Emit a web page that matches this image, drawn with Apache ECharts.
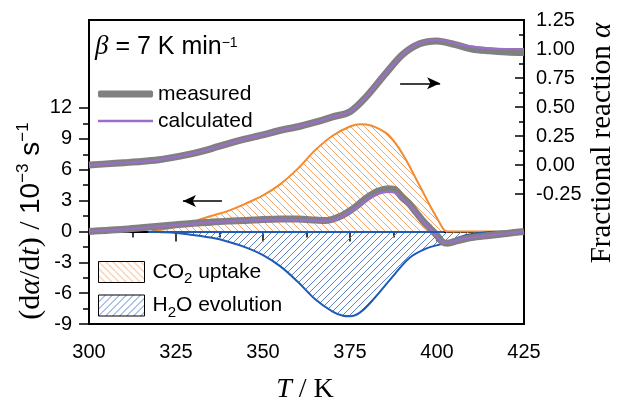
<!DOCTYPE html>
<html>
<head>
<meta charset="utf-8">
<script src="https://cdn.jsdelivr.net/npm/echarts@6/dist/echarts.min.js"></script>
<style>
  html, body { margin: 0; padding: 0; background: #fff; }
  #chart { width: 617px; height: 401px; }
</style>
</head>
<body>
<div id="chart"></div>
<script>
// --- data ---

// fractional reaction alpha (right axis)
const alphaT = [300, 305, 310, 315, 320, 325, 330, 335, 340, 345, 350, 355, 360, 365, 370, 375, 380, 385, 390, 395, 400, 405, 410, 415, 420, 425];
const alphaMeasured = [0.0, 0.01, 0.02, 0.03, 0.045, 0.07, 0.1, 0.14, 0.185, 0.225, 0.26, 0.3, 0.33, 0.37, 0.415, 0.46, 0.6, 0.78, 0.95, 1.045, 1.07, 1.04, 1.0, 0.985, 0.975, 0.97];
const alphaCalc = [0.0, 0.01, 0.02, 0.03, 0.045, 0.07, 0.1, 0.14, 0.185, 0.225, 0.26, 0.3, 0.33, 0.37, 0.415, 0.46, 0.6, 0.78, 0.95, 1.05, 1.08, 1.05, 1.02, 1.005, 1.0, 1.0];

// reaction rate d(alpha)/dt in 1e-3 s^-1 (left axis)
const rateT = [300, 305, 310, 315, 320, 325, 330, 335, 340, 345, 350, 355, 360, 365, 368, 371, 374, 377, 380, 383, 386, 388, 390, 392, 394, 396, 398, 400, 401.5, 403, 406, 410, 415, 420, 425];
const rateMeasured = [0.0, 0.1, 0.2, 0.35, 0.5, 0.65, 0.8, 0.9, 1.0, 1.05, 1.15, 1.2, 1.2, 1.1, 1.05, 1.3, 1.8, 2.5, 3.3, 3.9, 4.15, 4.05, 3.3, 2.7, 1.85, 1.0, 0.3, -0.4, -1.0, -1.15, -0.9, -0.6, -0.4, -0.2, 0.0];
const rateCalc = [0.0, 0.1, 0.2, 0.33, 0.48, 0.62, 0.76, 0.88, 0.98, 1.05, 1.12, 1.15, 1.12, 1.02, 1.0, 1.2, 1.7, 2.35, 3.1, 3.65, 3.85, 3.75, 3.2, 2.6, 1.8, 0.95, 0.25, -0.5, -1.0, -1.1, -0.85, -0.6, -0.4, -0.2, 0.0];

const co2T = [318, 320, 325, 330, 335, 340, 345, 350, 355, 360, 365, 370, 375, 378, 381, 384, 386, 388, 390, 392, 394, 396, 398, 400, 402, 403, 410, 425];
const co2Uptake = [0, 0.1, 0.45, 0.95, 1.5, 2.0, 2.7, 3.5, 4.6, 6.1, 7.9, 9.3, 10.2, 10.42, 10.3, 9.85, 9.4, 8.6, 7.6, 6.4, 5.1, 3.8, 2.5, 1.3, 0.15, 0, 0, 0];

const h2oT = [318, 320, 325, 330, 335, 340, 345, 350, 355, 360, 365, 370, 373, 375, 378, 382, 387, 392, 397, 402, 406, 410, 415, 420, 425];
const h2oEvolution = [0, -0.05, -0.15, -0.35, -0.6, -1.0, -1.55, -2.3, -3.4, -4.9, -6.6, -7.8, -8.2, -8.25, -7.85, -6.5, -4.5, -2.6, -1.65, -1.15, -0.6, -0.25, -0.05, 0, 0];

// ticks
const leftMajor = [-9, -6, -3, 0, 3, 6, 9, 12];
const leftMinor = [-7.5, -4.5, -1.5, 1.5, 4.5, 7.5, 10.5];
const rightMajor = [-0.25, 0, 0.25, 0.5, 0.75, 1.0, 1.25];
const rightMinor = [-0.125, 0.125, 0.375, 0.625, 0.875, 1.125];

// arrows (T, rate) and the zero line under the H2O curve
const arrowLeft = [[338.2, 2.95], [327.0, 2.95]];
const arrowRight = [[389.4, 14.4], [400.9, 14.4]];
const h2oZero = [[317, 0], [402, 0]];

const ORANGE = '#f28a30';
const BLUE = '#1f5bb5';
const GREY = '#808080';
const PURPLE = '#9b6fc8';

function pairs(xs, ys) { return xs.map((x, i) => [x, ys[i]]); }

// hatch pattern: dir 1 = "/", -1 = "\"
function hatch(color, dir) {
    const s = 7;
    const c = document.createElement('canvas');
    c.width = s; c.height = s;
    const g = c.getContext('2d');
    g.strokeStyle = color;
    g.lineWidth = 1;
    g.beginPath();
    if (dir > 0) {
        g.moveTo(-1, s + 1); g.lineTo(s + 1, -1);
        g.moveTo(-1, 1); g.lineTo(1, -1);
        g.moveTo(s - 1, s + 1); g.lineTo(s + 1, s - 1);
    } else {
        g.moveTo(-1, -1); g.lineTo(s + 1, s + 1);
        g.moveTo(-1, s - 1); g.lineTo(1, s + 1);
        g.moveTo(s - 1, -1); g.lineTo(s + 1, 1);
    }
    g.stroke();
    return { image: c, repeat: 'repeat' };
}

const orangeHatch = hatch('#f5a468', -1);
const blueHatch = hatch('#5b86cc', 1);

const SANS = 'Liberation Sans, Arial, sans-serif';
const SERIF = 'Liberation Serif, Times New Roman, serif';

const tickStyle = { color: '#000', width: 1.5 };
const labelStyle = { color: '#000', fontSize: 20, fontFamily: SANS };

const chart = echarts.init(document.getElementById('chart'), null, { renderer: 'canvas' });

const legendText = { color: '#000', fontSize: 21, fontFamily: SANS, lineHeight: 22 };
const legendRich = {
    a: { fontSize: 21, fontFamily: SANS, color: '#000', lineHeight: 28 },
    s: { fontSize: 15, fontFamily: SANS, color: '#000', lineHeight: 14, padding: [14, 0, 0, 0] }
};
const legendNames = {
    'CO2 uptake': '{a|CO}{s|2}{a| uptake}',
    'H2O evolution': '{a|H}{s|2}{a|O evolution}'
};

chart.setOption({
    animation: false,
    grid: { left: 89, right: 93, top: 20, bottom: 77, show: true, borderColor: '#000', borderWidth: 2 },
    legend: [
        {
            data: ['measured'], left: 98, top: 83, padding: 0, selectedMode: false,
            itemWidth: 55, itemHeight: 7, icon: 'roundRect', itemStyle: { borderWidth: 0 },
            textStyle: legendText
        },
        {
            data: ['calculated'], left: 98, top: 110, padding: 0, selectedMode: false,
            itemWidth: 55, itemHeight: 2.5, icon: 'rect', itemStyle: { borderWidth: 0 },
            textStyle: legendText
        },
        {
            data: [{ name: 'CO2 uptake', itemStyle: { color: orangeHatch, borderColor: '#000', borderWidth: 1 } }],
            left: 98, top: 257.5, padding: 0, selectedMode: false,
            itemWidth: 46, itemHeight: 21, icon: 'rect',
            formatter: n => legendNames[n],
            textStyle: { color: '#000', fontSize: 21, fontFamily: SANS, rich: legendRich, padding: [0, 0, 0, 3] }
        },
        {
            data: [{ name: 'H2O evolution', itemStyle: { color: blueHatch, borderColor: '#000', borderWidth: 1 } }],
            left: 98, top: 291, padding: 0, selectedMode: false,
            itemWidth: 46, itemHeight: 21, icon: 'rect',
            formatter: n => legendNames[n],
            textStyle: { color: '#000', fontSize: 21, fontFamily: SANS, rich: legendRich, padding: [0, 0, 0, 3] }
        }
    ],
    xAxis: [{
        type: 'value', min: 300, max: 425, interval: 25,
        axisLine: { show: true, lineStyle: { color: '#000', width: 2 } },
        axisTick: { show: true, inside: false, length: 10, lineStyle: tickStyle },
        minorTick: { show: true, splitNumber: 2, length: 6, lineStyle: tickStyle },
        axisLabel: Object.assign({ margin: 18 }, labelStyle),
        splitLine: { show: false }
    }],
    yAxis: [
        {
            type: 'value', position: 'left', min: -9, max: 20.55,
            axisLine: { show: true, lineStyle: { color: '#000', width: 2 } },
            axisTick: { show: true, inside: false, length: 10, lineStyle: tickStyle, customValues: leftMajor },
            axisLabel: Object.assign({ margin: 17, customValues: leftMajor }, labelStyle),
            splitLine: { show: false }
        },
        {
            type: 'value', position: 'left', min: -9, max: 20.55,
            axisLine: { show: false },
            axisTick: { show: true, inside: false, length: 6, lineStyle: tickStyle, customValues: leftMinor },
            axisLabel: { show: false },
            splitLine: { show: false }
        },
        {
            type: 'value', position: 'right', min: -1.37, max: 1.25,
            axisLine: { show: true, lineStyle: { color: '#000', width: 2 } },
            axisTick: { show: true, inside: true, length: 9, lineStyle: tickStyle, customValues: rightMajor },
            axisLabel: Object.assign({ margin: 12, customValues: rightMajor, formatter: v => v.toFixed(2) }, labelStyle),
            splitLine: { show: false }
        },
        {
            type: 'value', position: 'right', min: -1.37, max: 1.25,
            axisLine: { show: false },
            axisTick: { show: true, inside: true, length: 5, lineStyle: tickStyle, customValues: rightMinor },
            axisLabel: { show: false },
            splitLine: { show: false }
        }
    ],
    series: [
        {
            name: 'CO2 uptake', type: 'line', yAxisIndex: 0, symbol: 'none', smooth: 0.35,
            data: pairs(co2T, co2Uptake),
            lineStyle: { color: ORANGE, width: 2 }, itemStyle: { color: ORANGE },
            areaStyle: { color: orangeHatch, opacity: 1 }
        },
        {
            name: 'H2O evolution', type: 'line', yAxisIndex: 0, symbol: 'none', smooth: 0.35,
            data: pairs(h2oT, h2oEvolution),
            lineStyle: { color: BLUE, width: 2 }, itemStyle: { color: BLUE },
            areaStyle: { color: blueHatch, opacity: 1 },
            markLine: {
                silent: true, symbol: 'none', label: { show: false },
                lineStyle: { color: BLUE, width: 2, type: 'solid' },
                data: [[{ coord: h2oZero[0] }, { coord: h2oZero[1] }]]
            }
        },
        {
            name: 'measured', type: 'line', yAxisIndex: 0, symbol: 'none', smooth: 0.3,
            data: pairs(rateT, rateMeasured),
            lineStyle: { color: GREY, width: 7 }, itemStyle: { color: GREY },
            markLine: {
                silent: true, symbol: ['none', 'arrow'], symbolSize: [9, 13], label: { show: false },
                lineStyle: { color: '#000', width: 1.5, type: 'solid' },
                data: [
                    [{ coord: arrowLeft[0] }, { coord: arrowLeft[1] }],
                    [{ coord: arrowRight[0] }, { coord: arrowRight[1] }]
                ]
            }
        },
        {
            name: 'calculated', type: 'line', yAxisIndex: 0, symbol: 'none', smooth: 0.3,
            data: pairs(rateT, rateCalc),
            lineStyle: { color: PURPLE, width: 2.2 }, itemStyle: { color: PURPLE }
        },
        {
            name: 'measured', type: 'line', yAxisIndex: 2, symbol: 'none', smooth: 0.3,
            data: pairs(alphaT, alphaMeasured),
            lineStyle: { color: GREY, width: 7 }, itemStyle: { color: GREY }
        },
        {
            name: 'calculated', type: 'line', yAxisIndex: 2, symbol: 'none', smooth: 0.3,
            data: pairs(alphaT, alphaCalc),
            lineStyle: { color: PURPLE, width: 2.2 }, itemStyle: { color: PURPLE }
        }
    ],
    graphic: [
        {
            type: 'text', x: 95, y: 47,
            style: {
                text: '{b|β}{t| = 7 K min}{sup|−1}',
                verticalAlign: 'middle', align: 'left',
                rich: {
                    b: { fontFamily: SERIF, fontStyle: 'italic', fontSize: 27, lineHeight: 30, fill: '#000' },
                    t: { fontFamily: SANS, fontSize: 25, lineHeight: 30, fill: '#000' },
                    sup: { fontFamily: SANS, fontSize: 14, lineHeight: 22, padding: [0, 0, 8, 0], fill: '#000' }
                }
            }
        },
        {
            type: 'text', x: 31, y: 221, rotation: Math.PI / 2,
            style: {
                text: '{p|(d}{pi|α}{p|/d}{pi|t}{p|) / }{n|10}{sup|−3}{n| s}{sup|−1}',
                align: 'center', verticalAlign: 'middle',
                rich: {
                    p: { fontFamily: SERIF, fontSize: 30, lineHeight: 36, fill: '#000' },
                    pi: { fontFamily: SERIF, fontStyle: 'italic', fontSize: 30, lineHeight: 36, fill: '#000' },
                    n: { fontFamily: SANS, fontSize: 28, lineHeight: 36, fill: '#000' },
                    sup: { fontFamily: SANS, fontSize: 17, lineHeight: 20, padding: [0, 0, 16, 0], fill: '#000' }
                }
            }
        },
        {
            type: 'text', x: 602, y: 143, rotation: Math.PI / 2,
            style: {
                text: '{r|Fractional reaction }{a|α}',
                align: 'center', verticalAlign: 'middle',
                rich: {
                    r: { fontFamily: SERIF, fontSize: 29, fill: '#000' },
                    a: { fontFamily: SERIF, fontStyle: 'italic', fontSize: 29, fill: '#000' }
                }
            }
        },
        {
            type: 'text', x: 305, y: 390,
            style: {
                text: '{i|T}{r| / K}',
                align: 'center', verticalAlign: 'middle',
                rich: {
                    i: { fontFamily: SERIF, fontStyle: 'italic', fontSize: 28, fill: '#000' },
                    r: { fontFamily: SERIF, fontSize: 28, fill: '#000' }
                }
            }
        }
    ]
});
</script>
</body>
</html>
